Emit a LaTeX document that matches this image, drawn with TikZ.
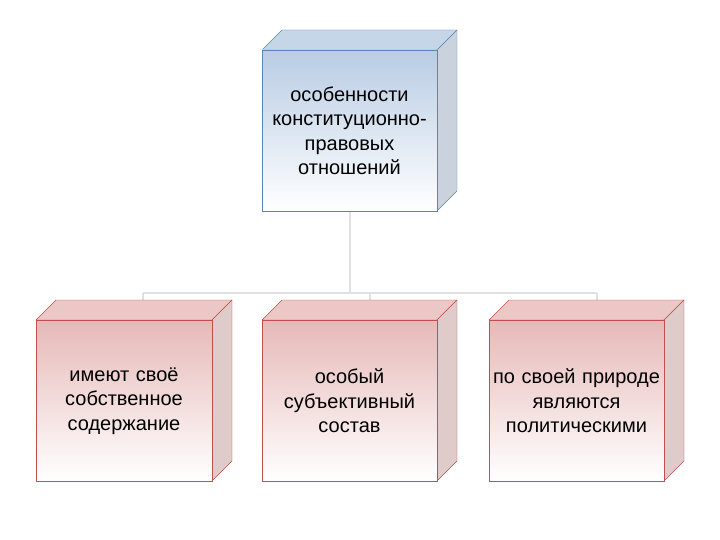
\documentclass[tikz,border=0pt]{standalone}
\usepackage{fontspec}
\setmainfont{Liberation Sans}
\begin{document}
\begin{tikzpicture}[x=1pt,y=-1pt,
  conn/.style={draw=black!12,line width=1.5pt},
  lbl/.style={align=center,font=\fontsize{20}{24.5}\selectfont,text width=200pt}]
\useasboundingbox (0,0) rectangle (720,540);
\newcommand{\cube}[7]{% x1 y1 x2 y2 border topcol bottomcol
  \fill[#6!80!white,draw=#5] (#1,#2) -- ++(20,-20) -- (#3+20,#2-20) -- (#3,#2) -- cycle;
  \fill[#6!70!gray!60!white,draw=#5] (#3,#2) -- ++(20,-20) -- (#3+20,#4-20) -- (#3,#4) -- cycle;
  \shade[top color=#6,bottom color=#7,draw=#5] (#1,#2) rectangle (#3,#4);}
\definecolor{blu}{HTML}{B8CCE4}
\definecolor{pnk}{HTML}{E6B9B8}
\definecolor{bb}{HTML}{5B85B5}
\definecolor{rb}{HTML}{C0504D}
\coordinate (t) at (350,211);
\coordinate (h) at (350,293);
\coordinate (hl) at (143,293);
\coordinate (hr) at (597,293);
\coordinate (d1) at (143,302);
\coordinate (d2) at (370,302);
\coordinate (d3) at (597,302);
\coordinate (m2) at (370,293);
\draw[conn] (t) -- (h);
\draw[conn] (hl) -- (hr);
\draw[conn] (hl) -- (d1);
\draw[conn] (m2) -- (d2);
\draw[conn] (hr) -- (d3);
\cube{262}{50}{437}{211}{bb}{blu}{white}
\cube{36}{320}{212}{481}{rb}{pnk}{white}
\cube{262}{320}{437}{481}{rb}{pnk}{white}
\cube{489}{320}{664}{481}{rb}{pnk}{white}
\node[lbl] (top) at (349.5,131) {особенности\\конституционно-\\правовых\\отношений};
\node[lbl] (b1) at (124,401) {имеют своё\\собственное\\содержание};
\node[lbl] (b2) at (349.5,401) {особый\\субъективный\\состав};
\node[lbl] (b3) at (576.5,401) {по своей природе\\являются\\политическими};
\end{tikzpicture}
\end{document}
